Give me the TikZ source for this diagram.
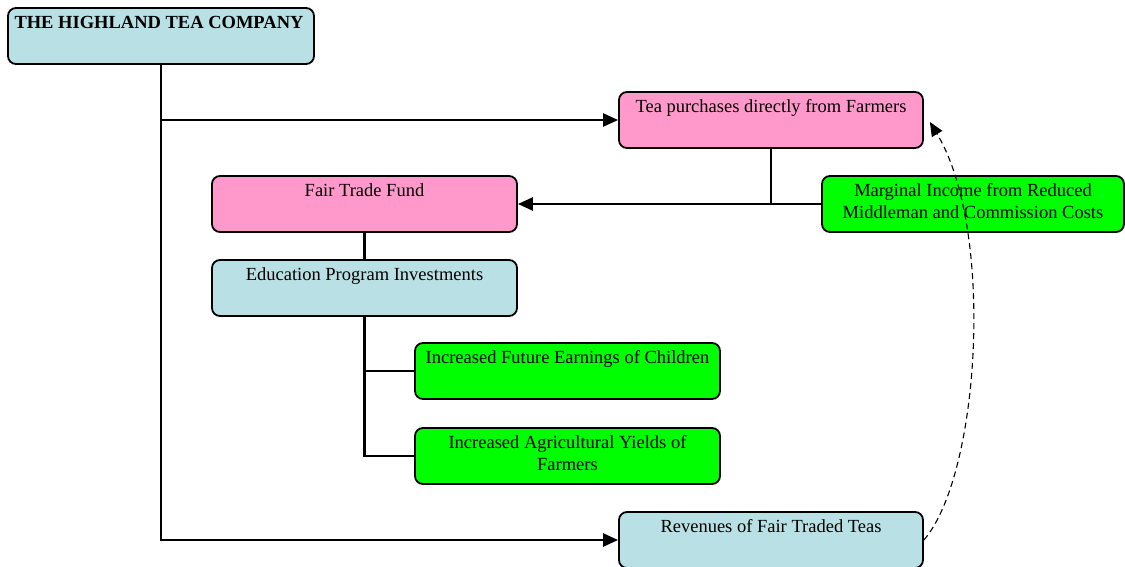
\documentclass[tikz,border=0pt]{standalone}
\usepackage{fontspec}
\setmainfont{Liberation Serif}
\usetikzlibrary{arrows.meta,calc}
\definecolor{lblue}{RGB}{185,224,228}
\definecolor{lpink}{RGB}{255,153,204}
\definecolor{lgreen}{RGB}{0,255,0}
\begin{document}
\begin{tikzpicture}[x=1pt,y=-1pt,
  box/.style={draw=black, line width=1.8pt, rounded corners=8pt, minimum height=56pt, inner sep=0pt},
  boxtext/.style={anchor=north, align=center, inner sep=0pt, yshift=-8pt, font=\fontsize{18.5}{22}\selectfont},
  conn/.style={line width=2.4pt},
  arr/.style={conn, -{Triangle[length=15pt,width=13pt]}},
  dasharr/.style={line width=1.1pt, dash pattern=on 6pt off 4pt, -{Triangle[length=14pt,width=12pt]}}
]
\useasboundingbox (0,0) rectangle (1125,566);

\node[box, fill=lblue, minimum width=306pt, label={[boxtext, yshift=-1pt, xshift=-2pt, font=\fontsize{18.5}{22}\selectfont\bfseries]north:THE HIGHLAND TEA COMPANY}] (company) at (161,36) {};
\node[box, fill=lpink, minimum width=304pt, label={[boxtext]north:Tea purchases directly from Farmers}] (tea) at (771,120) {};
\node[box, fill=lpink, minimum width=305pt, label={[boxtext]north:Fair Trade Fund}] (fund) at (364.5,204) {};
\node[box, fill=lgreen, minimum width=302pt, label={[boxtext]north:Marginal Income from Reduced\\Middleman and Commission Costs}] (marginal) at (973,204) {};
\node[box, fill=lblue, minimum width=305pt, label={[boxtext]north:Education Program Investments}] (edu) at (364.5,288) {};
\node[box, fill=lgreen, minimum width=305pt, label={[boxtext]north:Increased Future Earnings of Children}] (future) at (567.5,371) {};
\node[box, fill=lgreen, minimum width=305pt, label={[boxtext]north:Increased Agricultural Yields of\\Farmers}] (agri) at (567.5,456) {};
\node[box, fill=lblue, minimum width=304pt, label={[boxtext]north:Revenues of Fair Traded Teas}] (rev) at (771,540) {};

\draw[arr] (company.south) |- (rev.west);
\draw[arr] (company.south |- tea.west) -- (tea.west);
\draw[conn] (tea.south) -- (tea.south |- fund.east);
\draw[arr] (marginal.west) -- (fund.east);
\draw[conn] (fund.south) -- (edu.north);
\draw[conn] (edu.south) |- (future.west);
\draw[conn] (edu.south) |- (agri.west);
\coordinate (teaend) at ($(tea.east)+(6,2)$);
\draw[dasharr] (rev.east) .. controls (980,475) and (995,230) .. (teaend);
\end{tikzpicture}
\end{document}
